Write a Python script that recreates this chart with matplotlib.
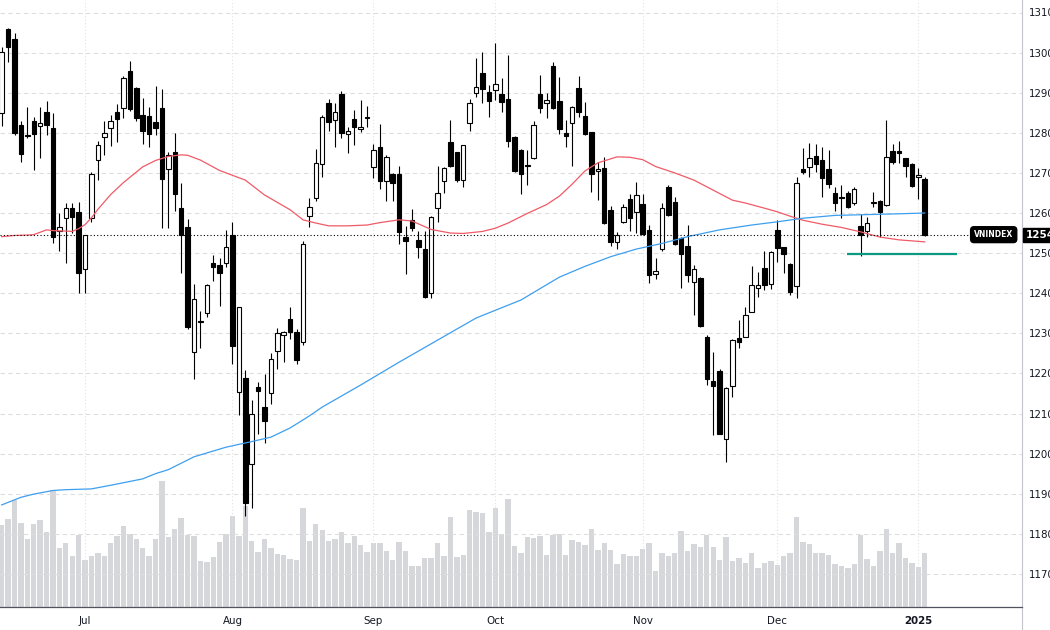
import numpy as np
import matplotlib
matplotlib.use("Agg")
import matplotlib.pyplot as plt
import matplotlib.transforms as mtransforms
from matplotlib.lines import Line2D

# ---------------- data ----------------
opens = [1285.0, 1305.8, 1303.3, 1281.9, 1279.5, 1282.9, 1281.6, 1285.1, 1281.2, 1255.6,
         1258.8, 1261.2, 1260.2, 1246.1, 1258.7, 1273.1, 1278.9, 1281.1, 1285.2, 1286.3,
         1295.5, 1291.1, 1284.4, 1284.2, 1282.8, 1286.1, 1270.9, 1275.3, 1261.3, 1256.6,
         1225.3, 1232.8, 1235.1, 1247.5, 1247.1, 1247.5, 1254.5, 1215.4, 1218.8, 1197.3,
         1216.7, 1211.7, 1215.0, 1225.7, 1229.7, 1233.6, 1230.4, 1227.9, 1259.3, 1263.7,
         1272.1, 1287.4, 1283.2, 1289.6, 1279.6, 1283.4, 1280.9, 1283.6, 1271.4, 1276.4,
         1268.1, 1269.7, 1269.7, 1254.1, 1258.3, 1253.3, 1250.9, 1240.0, 1261.2, 1268.1,
         1277.6, 1275.1, 1268.2, 1282.4, 1290.0, 1295.0, 1290.2, 1290.7, 1289.7, 1288.4,
         1278.9, 1275.7, 1272.0, 1273.8, 1289.6, 1287.5, 1296.7, 1287.9, 1280.0, 1282.5,
         1291.1, 1284.2, 1280.1, 1270.4, 1271.1, 1260.7, 1252.7, 1257.8, 1263.4, 1260.3,
         1262.2, 1255.8, 1244.8, 1250.9, 1266.6, 1262.8, 1253.8, 1251.8, 1242.7, 1243.9,
         1229.2, 1218.2, 1220.6, 1203.6, 1216.9, 1228.9, 1229.2, 1235.4, 1241.2, 1246.4,
         1242.3, 1255.8, 1251.4, 1247.3, 1241.8, 1270.9, 1271.4, 1274.2, 1273.2, 1270.9,
         1264.9, 1264.0, 1264.9, 1262.6, 1256.8, 1255.5, 1262.5, 1263.0, 1262.0, 1275.5,
         1275.5, 1273.6, 1272.2, 1268.9, 1268.6]
highs = [1301.5, 1306.1, 1305.0, 1283.0, 1286.4, 1284.0, 1286.4, 1288.0, 1284.9, 1259.9,
         1262.6, 1262.4, 1262.7, 1254.6, 1270.3, 1278.0, 1283.0, 1284.4, 1287.2, 1294.2,
         1297.9, 1291.5, 1288.6, 1286.4, 1291.7, 1290.9, 1275.1, 1279.9, 1267.4, 1258.4,
         1242.3, 1235.6, 1242.3, 1249.5, 1248.7, 1255.8, 1257.8, 1236.5, 1220.8, 1213.4,
         1217.9, 1219.9, 1225.0, 1231.2, 1230.5, 1236.5, 1231.0, 1253.1, 1263.7, 1275.9,
         1284.5, 1288.4, 1287.4, 1290.4, 1281.5, 1285.7, 1288.2, 1286.7, 1277.2, 1282.2,
         1274.4, 1270.0, 1271.7, 1256.8, 1260.9, 1255.4, 1255.4, 1259.2, 1271.7, 1271.5,
         1283.2, 1275.3, 1277.0, 1288.4, 1298.6, 1300.2, 1291.9, 1302.3, 1293.6, 1299.4,
         1279.2, 1276.0, 1275.7, 1283.0, 1294.4, 1289.9, 1297.7, 1294.0, 1283.2, 1286.6,
         1294.2, 1287.8, 1280.3, 1272.8, 1274.0, 1261.7, 1255.2, 1262.3, 1264.7, 1267.8,
         1264.7, 1257.0, 1248.9, 1262.4, 1267.0, 1263.9, 1254.1, 1257.0, 1247.0, 1244.1,
         1229.6, 1225.3, 1221.1, 1216.5, 1228.5, 1233.3, 1236.5, 1246.8, 1245.4, 1250.4,
         1250.6, 1258.3, 1251.6, 1247.5, 1269.1, 1276.1, 1277.5, 1277.2, 1276.5, 1275.7,
         1266.6, 1266.9, 1265.4, 1266.5, 1259.8, 1259.1, 1265.2, 1263.2, 1283.2, 1277.2,
         1278.0, 1273.8, 1272.4, 1271.1, 1268.9]
lows = [1281.7, 1297.7, 1279.5, 1272.6, 1278.6, 1270.6, 1273.6, 1279.4, 1252.6, 1250.4,
        1247.5, 1254.9, 1240.0, 1240.0, 1257.8, 1268.2, 1274.5, 1276.8, 1277.7, 1283.6,
        1285.5, 1283.0, 1277.2, 1276.4, 1279.4, 1256.2, 1256.2, 1260.6, 1245.1, 1231.0,
        1218.5, 1226.3, 1234.0, 1243.1, 1236.8, 1246.5, 1222.3, 1209.6, 1184.4, 1186.4,
        1205.0, 1202.6, 1212.4, 1221.0, 1222.9, 1228.7, 1222.3, 1227.0, 1256.6, 1263.0,
        1269.1, 1280.5, 1276.5, 1278.6, 1274.9, 1277.0, 1280.3, 1281.5, 1268.7, 1266.0,
        1263.0, 1263.0, 1252.3, 1244.7, 1255.4, 1248.7, 1238.8, 1238.8, 1257.8, 1264.9,
        1271.5, 1267.8, 1266.6, 1280.5, 1289.0, 1287.4, 1284.0, 1288.2, 1285.3, 1276.5,
        1270.3, 1264.7, 1266.9, 1273.5, 1285.0, 1283.6, 1286.0, 1279.8, 1276.5, 1271.7,
        1284.0, 1279.5, 1265.3, 1263.2, 1257.2, 1251.7, 1250.9, 1257.5, 1255.4, 1255.0,
        1254.5, 1242.5, 1243.5, 1250.6, 1259.3, 1252.0, 1241.2, 1242.9, 1234.6, 1231.6,
        1217.1, 1204.6, 1204.8, 1198.0, 1214.0, 1226.3, 1229.0, 1235.2, 1239.1, 1240.8,
        1241.0, 1247.9, 1245.0, 1239.5, 1238.7, 1269.8, 1269.1, 1270.3, 1264.1, 1266.2,
        1260.5, 1258.7, 1261.3, 1262.0, 1249.4, 1253.9, 1261.6, 1253.9, 1261.8, 1272.3,
        1272.4, 1268.9, 1266.5, 1263.4, 1254.3]
closes = [1300.2, 1301.5, 1279.9, 1274.6, 1279.3, 1279.7, 1282.4, 1281.9, 1253.9, 1256.4,
          1261.2, 1259.1, 1245.1, 1254.4, 1269.7, 1276.9, 1279.9, 1282.9, 1283.5, 1293.6,
          1285.9, 1283.6, 1280.5, 1279.7, 1281.1, 1268.6, 1274.5, 1264.7, 1254.5, 1231.6,
          1238.5, 1233.0, 1242.0, 1246.5, 1245.0, 1251.4, 1226.9, 1236.5, 1187.8, 1210.0,
          1215.7, 1208.2, 1223.5, 1230.0, 1230.3, 1230.2, 1223.3, 1252.3, 1261.4, 1272.5,
          1284.0, 1282.8, 1285.1, 1280.0, 1280.4, 1281.4, 1281.4, 1283.9, 1275.7, 1268.1,
          1273.9, 1267.6, 1255.2, 1253.1, 1256.2, 1251.6, 1239.1, 1258.9, 1264.9, 1271.1,
          1271.7, 1268.2, 1276.9, 1287.4, 1291.5, 1290.8, 1288.0, 1292.2, 1287.8, 1278.0,
          1270.5, 1269.7, 1271.8, 1281.9, 1286.3, 1288.3, 1286.3, 1281.0, 1279.3, 1286.4,
          1285.3, 1279.7, 1269.7, 1270.9, 1257.4, 1252.7, 1254.5, 1261.6, 1258.7, 1264.5,
          1254.8, 1244.5, 1245.6, 1261.2, 1259.5, 1252.3, 1249.9, 1244.5, 1246.0, 1231.8,
          1218.5, 1216.9, 1205.0, 1216.3, 1228.3, 1227.9, 1234.6, 1242.0, 1242.0, 1242.0,
          1250.2, 1251.2, 1249.7, 1240.2, 1267.4, 1270.1, 1273.6, 1272.1, 1268.8, 1267.2,
          1262.6, 1263.8, 1261.6, 1265.9, 1254.5, 1257.4, 1262.7, 1260.3, 1274.0, 1272.8,
          1275.0, 1271.8, 1266.7, 1269.5, 1254.6]
volumes = [659, 707, 859, 672, 542, 661, 699, 600, 939, 469,
           509, 405, 573, 376, 405, 435, 405, 509, 571, 651,
           584, 544, 469, 408, 547, 1005, 560, 624, 715, 573,
           568, 368, 357, 397, 520, 587, 728, 568, 805, 528,
           440, 547, 469, 421, 419, 381, 376, 789, 525, 661,
           613, 528, 547, 597, 509, 568, 493, 440, 509, 509,
           448, 376, 520, 445, 331, 331, 392, 395, 512, 408,
           720, 397, 413, 773, 763, 749, 597, 789, 581, 864,
           485, 429, 557, 549, 571, 413, 573, 581, 413, 533,
           520, 496, 621, 459, 509, 453, 341, 421, 408, 405,
           464, 509, 285, 435, 405, 432, 611, 445, 501, 477,
           573, 477, 373, 557, 368, 389, 355, 435, 315, 355,
           368, 333, 405, 432, 720, 517, 501, 432, 432, 419,
           341, 328, 312, 341, 573, 384, 328, 448, 621, 432,
           509, 389, 352, 320, 432]

# short moving average (red) and long moving average (blue), read at candle positions
ma_short_idx = [0, 2, 4, 5, 6, 7, 8, 10, 11, 12, 13, 14, 15, 17, 19, 20, 22, 24, 26, 28,
                29, 31, 34, 38, 41, 45, 47, 49, 51, 54, 57, 59, 62, 64, 67, 70, 72, 75, 77, 79,
                82, 85, 87, 89, 91, 93, 96, 98, 100, 102, 105, 108, 111, 114, 116, 119, 121,
                123, 125, 128, 131, 134, 137, 140, 144]
ma_short_val = [1254.1, 1254.4, 1254.5, 1254.6, 1255.2, 1255.8, 1255.6, 1255.5, 1255.4, 1256.1,
                1257.1, 1258.8, 1260.9, 1264.6, 1267.6, 1268.9, 1271.5, 1273.1, 1274.1, 1274.5,
                1274.4, 1273.2, 1270.6, 1268.2, 1264.5, 1260.8, 1258.3, 1257.5, 1256.8, 1256.8,
                1257.0, 1257.6, 1258.3, 1258.0, 1255.9, 1255.0, 1254.9, 1255.4, 1256.2, 1257.5,
                1259.9, 1262.1, 1264.2, 1267.2, 1270.5, 1272.5, 1274.0, 1273.9, 1273.3, 1271.6,
                1270.0, 1268.2, 1265.7, 1263.2, 1262.5, 1261.2, 1260.3, 1259.2, 1258.2, 1257.2,
                1256.4, 1255.3, 1254.0, 1253.3, 1252.8]
ma_long_idx = [0, 3, 5, 8, 10, 14, 17, 22, 24, 26, 30, 35, 39, 42, 45, 48, 50, 56, 62, 68,
               74, 81, 87, 91, 95, 99, 103, 107, 112, 117, 121, 125, 130, 135, 140, 144]
ma_long_val = [1187.2, 1189.1, 1189.9, 1190.8, 1191.0, 1191.2, 1192.1, 1193.7, 1195.0, 1196.0,
               1199.2, 1201.6, 1203.0, 1204.1, 1206.4, 1209.4, 1211.6, 1217.1, 1222.8, 1228.3,
               1233.8, 1238.3, 1244.0, 1246.7, 1249.1, 1251.0, 1252.4, 1254.1, 1255.8, 1257.0,
               1257.8, 1258.7, 1259.4, 1259.6, 1259.8, 1260.0]

month_labels = ["Jul", "Aug", "Sep", "Oct", "Nov", "Dec", "2025"]
month_idx = [13, 36, 58, 77, 100, 121, 143]
price_ticks = list(range(1170, 1311, 10))
symbol = "VNINDEX"
last_price_text = "1254.61"
support_level = 1249.8
support_start, support_end = 131.8, 149.0

# ---------------- figure ----------------
W, H = 1050, 630
fig = plt.figure(figsize=(W / 100, H / 100), dpi=100)
fig.patch.set_facecolor("white")
rect = [0, 23 / H, 1022 / W, 607 / H]

ax_v = fig.add_axes(rect, zorder=1)
ax = fig.add_axes(rect, zorder=2, sharex=ax_v)
ax.set_facecolor("none")

x = np.arange(len(closes))
o = np.array(opens); c = np.array(closes)
hi = np.array(highs); lo = np.array(lows)

# volume
ax_v.bar(x, volumes, width=0.84, color="#d6d7db", linewidth=0)
ax_v.set_ylim(0, 607 * 8)
ax_v.axis("off")

# grid
ax.set_yticks(price_ticks)
ax.grid(axis="y", color="#dedede", linestyle=(0, (4, 3)), linewidth=0.8, zorder=0)
for m in month_idx:
    ax.axvline(m, color="#e2e2e2", linestyle=(0, (1, 2)), linewidth=0.8, zorder=0)

# candles
ink = "#000000"
text_ink = "#131722"
up = c >= o
body_lo = np.minimum(o, c)
body_h = np.maximum(np.abs(c - o), 0.25)
ax.vlines(x, lo, hi, color=ink, linewidth=0.8, zorder=3)
ax.bar(x[up], body_h[up], bottom=body_lo[up], width=0.7, facecolor="white",
       edgecolor=ink, linewidth=0.8, zorder=4)
ax.bar(x[~up], body_h[~up], bottom=body_lo[~up], width=0.7, facecolor=ink,
       edgecolor=ink, linewidth=0.8, zorder=4)

# moving averages
ax.plot(ma_short_idx, ma_short_val, color="#f05a67", linewidth=0.9, zorder=5)
ax.plot(ma_long_idx, ma_long_val, color="#3d9ff0", linewidth=0.9, zorder=5)

# support line
ax.plot([support_start, support_end], [support_level, support_level],
        color="#0b9981", linewidth=1.6, zorder=5, solid_capstyle="butt")

# last price dotted line
last = closes[-1]
ax.axhline(last, xmin=0, xmax=970 / 1022, color="black", linestyle=(0, (1, 2)),
           linewidth=0.8, zorder=5)

trans = mtransforms.blended_transform_factory(ax.transAxes, ax.transData)
ax.text(0.9915, last, symbol, transform=trans, ha="right", va="center",
        color="white", fontsize=5.5, fontweight="bold", zorder=6,
        bbox=dict(boxstyle="round,pad=0.45", fc="black", ec="black"))
ax.annotate(last_price_text, xy=(1.0, last), xycoords=trans, xytext=(3.5, 0),
            textcoords="offset pixels", ha="left", va="center", color="white",
            fontsize=7.5, fontweight="bold", annotation_clip=False, zorder=6,
            bbox=dict(boxstyle="square,pad=0.2", fc="black", ec="black"))

# axes limits
ax.set_xlim((0 - 1.7) / 6.41, (1022 - 1.7) / 6.41)
ax.set_ylim(1310 - (607 - 12.5) / 4.01, 1310 + 12.5 / 4.01)

# ticks
ax.yaxis.tick_right()
ax.tick_params(axis="y", length=0, pad=5.3, labelsize=7.4, labelcolor=text_ink)
ax.set_xticks(month_idx)
ax.set_xticklabels(month_labels)
ax.tick_params(axis="x", length=0, pad=6.5, labelsize=7.4, labelcolor=text_ink)
ax.get_xticklabels()[-1].set_fontweight("bold")

for s in ["top", "left", "right"]:
    ax.spines[s].set_visible(False)
ax.spines["bottom"].set_color("#50535e")
ax.spines["bottom"].set_linewidth(0.9)

fig.add_artist(Line2D([1022 / W, 1022 / W], [0, 1], transform=fig.transFigure,
                      color="#c3c5cb", linewidth=0.8))

fig.savefig("out.png", dpi=100)
